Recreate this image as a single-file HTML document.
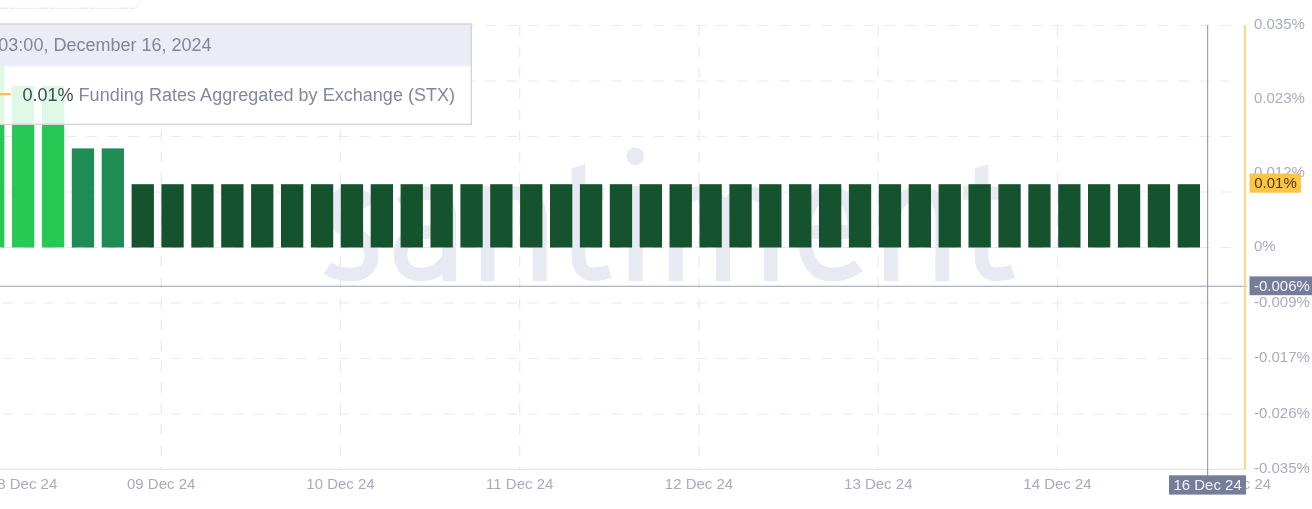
<!DOCTYPE html>
<html><head><meta charset="utf-8"><title>Funding Rates Aggregated by Exchange (STX)</title>
<style>
html,body{margin:0;padding:0;background:#fff;}
body{width:1312px;height:509px;overflow:hidden;position:relative;font-family:"Liberation Sans",sans-serif;}
svg{position:absolute;left:0;top:0;display:block;will-change:transform;}
text{font-family:"Liberation Sans",sans-serif;}
</style></head><body>
<svg width="1312" height="509" viewBox="0 0 1312 509">
<rect x="0" y="0" width="1312" height="509" fill="#ffffff"/>
<path d="M0 8.3H135.5" fill="none" stroke="#e3e3ea" stroke-width="1.1" stroke-dasharray="8 1.8 5.5 1.2 3 1 3 1 3 1 3 1 3 1 2.5 1"/><path d="M135.5 8.3L141.5 0" fill="none" stroke="#f0f0f4" stroke-width="1"/>
<g stroke="#e9e9ee" stroke-width="1.2" stroke-dasharray="10.5 10.5" fill="none">
<path d="M2.5 25.5H1241"/>
<path d="M2.5 81.0H1241"/>
<path d="M2.5 136.5H1241"/>
<path d="M2.5 192.0H1241"/>
<path d="M2.5 247.5H1241"/>
<path d="M2.5 303.0H1241"/>
<path d="M2.5 358.5H1241"/>
<path d="M2.5 414.0H1241"/>
<path d="M161.2 25.5V469"/>
<path d="M340.4 25.5V469"/>
<path d="M519.7 25.5V469"/>
<path d="M699.0 25.5V469"/>
<path d="M878.2 25.5V469"/>
<path d="M1057.5 25.5V469"/>
</g>
<rect x="0" y="24" width="471" height="100" fill="#ffffff"/>
<path d="M0 469.4H1245" stroke="#e5e5ea" stroke-width="1.4" fill="none"/>
<g fill="none" stroke="#e7e9f3" stroke-width="13.7" stroke-linecap="butt" stroke-linejoin="round">
<path d="M370 205C364 197 358 193 350 193C340 193 333.5 200 333.5 211C333.5 223 341 228 352 233C364 238 371.5 244 371.5 256C371.5 268 363 274.5 351 274.5C341 274.5 333 272 327.5 268"/>
<path d="M401 204C408 197 416 193 426 193C441 193 449.3 202 449.3 218V281.2"/>
<path d="M449.3 232H429C411 232 400.5 240 400.5 254C400.5 267 409 274.5 421 274.5C433 274.5 444 268 449.3 256"/>
<path d="M487.7 186V281.2"/><path d="M487.7 218C494 202 504 193 516 193C531 193 539.8 202 539.8 218V281.2"/>
<path d="M578.5 200V256C578.5 268 584 274.3 593 274.3C598 274.3 603 273.5 609.5 271.5"/><path d="M560 193H604"/>
<path d="M635.5 186V281.2"/>
<path d="M675.7 186V281.2"/><path d="M675.7 216C681 201 689 193 700 193C715 193 723 201 723 216V281.2"/><path d="M723 216C728 201 737 193 748 193C762 193 770.7 201 770.7 216V281.2"/>
<path d="M804.5 232H854.5C854.5 208 846 193 830 193C814 193 804.5 209 804.5 233C804.5 260 814 274.5 832 274.5C843 274.5 852 271 858.5 265.5"/>
<path d="M891 186V281.2"/><path d="M891 218C897 202 907 193 919 193C934 193 942.3 202 942.3 218V281.2"/>
<path d="M981.6 200V256C981.6 268 987 274.3 996 274.3C1002 274.3 1007 273.5 1013 271.5"/><path d="M963 193H1007"/>
</g><g fill="#e7e9f3"><circle cx="635.2" cy="156.4" r="8.8"/>
<path d="M571.65 168.3L585.35 164.3V201H571.65Z"/><path d="M974.75 168.3L988.45 164.3V201H974.75Z"/></g>
<rect x="-17.9" y="25.5" width="22.3" height="222.0" fill="#26c953"/>
<rect x="12.0" y="86.0" width="22.3" height="161.5" fill="#26c953"/>
<rect x="41.9" y="86.0" width="22.3" height="161.5" fill="#26c953"/>
<rect x="71.8" y="148.4" width="22.3" height="99.1" fill="#1f8b55"/>
<rect x="101.7" y="148.4" width="22.3" height="99.1" fill="#1f8b55"/>
<rect x="131.6" y="184.2" width="22.3" height="63.3" fill="#14532d"/>
<rect x="161.4" y="184.2" width="22.3" height="63.3" fill="#14532d"/>
<rect x="191.3" y="184.2" width="22.3" height="63.3" fill="#14532d"/>
<rect x="221.2" y="184.2" width="22.3" height="63.3" fill="#14532d"/>
<rect x="251.1" y="184.2" width="22.3" height="63.3" fill="#14532d"/>
<rect x="281.0" y="184.2" width="22.3" height="63.3" fill="#14532d"/>
<rect x="310.9" y="184.2" width="22.3" height="63.3" fill="#14532d"/>
<rect x="340.8" y="184.2" width="22.3" height="63.3" fill="#14532d"/>
<rect x="370.7" y="184.2" width="22.3" height="63.3" fill="#14532d"/>
<rect x="400.6" y="184.2" width="22.3" height="63.3" fill="#14532d"/>
<rect x="430.5" y="184.2" width="22.3" height="63.3" fill="#14532d"/>
<rect x="460.4" y="184.2" width="22.3" height="63.3" fill="#14532d"/>
<rect x="490.2" y="184.2" width="22.3" height="63.3" fill="#14532d"/>
<rect x="520.1" y="184.2" width="22.3" height="63.3" fill="#14532d"/>
<rect x="550.0" y="184.2" width="22.3" height="63.3" fill="#14532d"/>
<rect x="579.9" y="184.2" width="22.3" height="63.3" fill="#14532d"/>
<rect x="609.8" y="184.2" width="22.3" height="63.3" fill="#14532d"/>
<rect x="639.7" y="184.2" width="22.3" height="63.3" fill="#14532d"/>
<rect x="669.6" y="184.2" width="22.3" height="63.3" fill="#14532d"/>
<rect x="699.5" y="184.2" width="22.3" height="63.3" fill="#14532d"/>
<rect x="729.4" y="184.2" width="22.3" height="63.3" fill="#14532d"/>
<rect x="759.2" y="184.2" width="22.3" height="63.3" fill="#14532d"/>
<rect x="789.1" y="184.2" width="22.3" height="63.3" fill="#14532d"/>
<rect x="819.0" y="184.2" width="22.3" height="63.3" fill="#14532d"/>
<rect x="848.9" y="184.2" width="22.3" height="63.3" fill="#14532d"/>
<rect x="878.8" y="184.2" width="22.3" height="63.3" fill="#14532d"/>
<rect x="908.7" y="184.2" width="22.3" height="63.3" fill="#14532d"/>
<rect x="938.6" y="184.2" width="22.3" height="63.3" fill="#14532d"/>
<rect x="968.5" y="184.2" width="22.3" height="63.3" fill="#14532d"/>
<rect x="998.4" y="184.2" width="22.3" height="63.3" fill="#14532d"/>
<rect x="1028.3" y="184.2" width="22.3" height="63.3" fill="#14532d"/>
<rect x="1058.2" y="184.2" width="22.3" height="63.3" fill="#14532d"/>
<rect x="1088.0" y="184.2" width="22.3" height="63.3" fill="#14532d"/>
<rect x="1117.9" y="184.2" width="22.3" height="63.3" fill="#14532d"/>
<rect x="1147.8" y="184.2" width="22.3" height="63.3" fill="#14532d"/>
<rect x="1177.7" y="184.2" width="22.3" height="63.3" fill="#14532d"/>
<path d="M0 286.3H1247" stroke="#9b9eb9" stroke-width="1.1" fill="none"/>
<path d="M1207.6 25V476" stroke="#9b9eb9" stroke-width="1.2" fill="none"/>
<rect x="1243.8" y="25" width="2.2" height="444.3" fill="#f6d98e"/>
<g font-size="15" fill="#a7abbe">
<text x="1254" y="29.2">0.035%</text>
<text x="1254" y="103.2">0.023%</text>
<text x="1254" y="177.2">0.012%</text>
<text x="1254" y="251.2">0%</text>
<text x="1254" y="306.7">-0.009%</text>
<text x="1254" y="362.2">-0.017%</text>
<text x="1254" y="417.7">-0.026%</text>
<text x="1254" y="473.2">-0.035%</text>
<text x="23.1" y="489.2" text-anchor="middle">08 Dec 24</text>
<text x="161.2" y="489.2" text-anchor="middle">09 Dec 24</text>
<text x="340.5" y="489.2" text-anchor="middle">10 Dec 24</text>
<text x="519.7" y="489.2" text-anchor="middle">11 Dec 24</text>
<text x="699.0" y="489.2" text-anchor="middle">12 Dec 24</text>
<text x="878.3" y="489.2" text-anchor="middle">13 Dec 24</text>
<text x="1057.5" y="489.2" text-anchor="middle">14 Dec 24</text>
<text x="1237.0" y="489.2" text-anchor="middle">15 Dec 24</text>
</g>
<rect x="1249.5" y="173.5" width="51.5" height="19.2" fill="#fcc546"/>
<text x="1254.2" y="187.9" font-size="15" fill="#4f3607">0.01%</text>
<rect x="1249.5" y="276.4" width="63" height="18.8" fill="#767d99"/>
<text x="1254" y="290.5" font-size="15" fill="#f4f5fa">-0.006%</text>
<rect x="1169" y="475.3" width="77" height="19.3" fill="#767d99"/>
<text x="1207.6" y="490.2" font-size="15" fill="#f4f5fa" text-anchor="middle">16 Dec 24</text>
<rect x="-10" y="66" width="481" height="58.3" fill="#ffffff" fill-opacity="0.86"/>
<rect x="-10" y="24" width="481" height="42.3" fill="#ebecf5"/>
<rect x="-10" y="24" width="481.3" height="100.4" fill="none" stroke="#d2d3db" stroke-width="1.3"/>
<text x="211.5" y="51.3" font-size="18" fill="#81879b" text-anchor="end">03:00, December 16, 2024</text>
<rect x="0" y="93" width="11" height="2.2" fill="#f6c443"/>
<text y="101.3" font-size="18" fill="#81889c"><tspan x="22.5" fill="#3f4a52">0.01%</tspan><tspan x="78.6" textLength="376.5" lengthAdjust="spacing">Funding Rates Aggregated by Exchange (STX)</tspan></text>
</svg>
</body></html>
